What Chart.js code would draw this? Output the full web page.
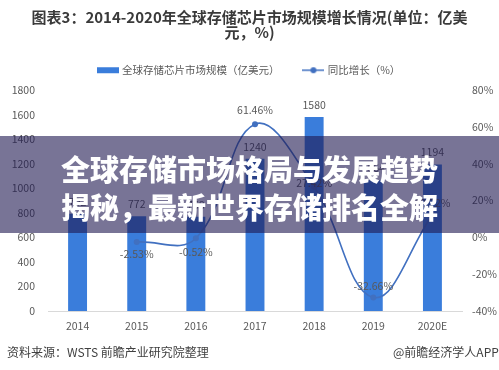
<!DOCTYPE html>
<html>
<head>
<meta charset="utf-8">
<script src="https://cdn.jsdelivr.net/npm/chart.js@4/dist/chart.umd.min.js"></script>
<style>
  html, body { margin: 0; padding: 0; background: #ffffff; }
  #wrap { position: relative; width: 499px; height: 370px; overflow: hidden; background: #fff; }
  #chart { position: absolute; left: 0; top: 0; }
  .foot { position: absolute; top: 343px; font: 12px "Noto Sans CJK SC", sans-serif; color: #404040; white-space: nowrap; line-height: 18px; }
  #overlay { position: absolute; left: 0; top: 136px; width: 499px; height: 97px; background: rgba(30,23,80,0.6); }
  #overlay div { position: absolute; left: 0; width: 499px; text-align: center; color: #ffffff;
    font: 900 29px "Noto Sans CJK SC", sans-serif; line-height: 38px; white-space: nowrap; }
</style>
</head>
<body>
<div id="wrap">
  <canvas id="chart" width="499" height="370"></canvas>
  <div class="foot" style="left:7px;">资料来源：WSTS 前瞻产业研究院整理</div>
  <div class="foot" style="left:393px;">@前瞻经济学人APP</div>
  <div id="overlay">
    <div style="top:13px;">全球存储市场格局与发展趋势</div>
    <div style="top:51px;">揭秘，最新世界存储排名全解</div>
  </div>
</div>
<script>
const categories = ['2014', '2015', '2016', '2017', '2018', '2019', '2020E'];
const marketSize = [792, 772, 768, 1240, 1580, 1064, 1194];
const growthRate = [null, -2.53, -0.52, 61.46, 27.42, -32.66, 12.22];
const seriesNames = ['全球存储芯片市场规模（亿美元）', '同比增长（%）'];
const titleLines = ['图表3：2014-2020年全球存储芯片市场规模增长情况(单位：亿美', '元，%)'];

const BAR_COLOR = '#3a7ddb';
const LINE_COLOR = '#4170c0';
const TEXT_COLOR = '#595959';
const FONT = '"Noto Sans CJK SC", "Noto Sans", sans-serif';
const growthLabelOffset = [0, 12, 14, -14, -4, -11, -12];

function makeSwatch(kind) {
  const c = document.createElement('canvas');
  c.width = 22; c.height = 8;
  const g = c.getContext('2d');
  if (kind === 'bar') {
    g.fillStyle = BAR_COLOR;
    g.fillRect(0, 1, 22, 6);
  } else {
    g.strokeStyle = LINE_COLOR; g.lineWidth = 1.5;
    g.beginPath(); g.moveTo(0, 4); g.lineTo(22, 4); g.stroke();
    g.fillStyle = LINE_COLOR;
    g.beginPath(); g.arc(11, 4, 3, 0, Math.PI * 2); g.fill();
  }
  return c;
}
const swatches = [makeSwatch('bar'), makeSwatch('line')];

// keep a fixed gap between the legend row and the plot area
const legendHeight = {
  id: 'legendHeight',
  beforeLayout(chart) {
    const lg = chart.legend;
    if (lg && !lg._fixedHeight) {
      const orig = lg.fit.bind(lg);
      lg.fit = function () { orig(); this.height = 50; };
      lg._fixedHeight = true;
    }
  }
};

const valueLabels = {
  id: 'valueLabels',
  afterDatasetsDraw(chart) {
    const ctx = chart.ctx;
    ctx.save();
    ctx.font = '10.5px ' + FONT;
    ctx.fillStyle = TEXT_COLOR;
    ctx.textAlign = 'center';
    ctx.textBaseline = 'middle';
    chart.getDatasetMeta(0).data.forEach((el, i) => {
      ctx.fillText(String(marketSize[i]), el.x, el.y - 12);
    });
    chart.getDatasetMeta(1).data.forEach((el, i) => {
      if (growthRate[i] === null) return;
      ctx.fillText(growthRate[i].toFixed(2) + '%', el.x, el.y + growthLabelOffset[i]);
    });
    ctx.restore();
  }
};

new Chart(document.getElementById('chart'), {
  type: 'bar',
  data: {
    labels: categories,
    datasets: [
      {
        type: 'bar',
        label: seriesNames[0],
        data: marketSize,
        backgroundColor: BAR_COLOR,
        yAxisID: 'y',
        categoryPercentage: 1,
        barPercentage: 0.32,
        order: 2
      },
      {
        type: 'line',
        label: seriesNames[1],
        data: growthRate,
        borderColor: LINE_COLOR,
        backgroundColor: LINE_COLOR,
        borderWidth: 1.6,
        pointRadius: 3,
        pointBackgroundColor: LINE_COLOR,
        pointBorderWidth: 0,
        tension: 0.4,
        yAxisID: 'y1',
        order: 1
      }
    ]
  },
  options: {
    responsive: false,
    animation: false,
    devicePixelRatio: 1,
    layout: { padding: { left: 0, right: 0, top: 0, bottom: 0 } },
    plugins: {
      tooltip: { enabled: false },
      title: {
        display: true,
        text: titleLines,
        color: '#3a3a3a',
        font: { family: FONT, size: 15, weight: 'bold', lineHeight: 1.0 },
        padding: { top: 10, bottom: 0 }
      },
      legend: {
        display: true,
        position: 'top',
        labels: {
          color: TEXT_COLOR,
          font: { family: FONT, size: 10.5 },
          usePointStyle: true,
          pointStyleWidth: 18,
          padding: 25,
          generateLabels: () => seriesNames.map((n, i) => ({
            text: n,
            pointStyle: swatches[i],
            fillStyle: 'transparent',
            strokeStyle: 'transparent',
            lineWidth: 0,
            fontColor: TEXT_COLOR,
            datasetIndex: i,
            hidden: false
          }))
        }
      }
    },
    scales: {
      x: {
        grid: { display: false, drawTicks: false },
        border: { display: true, color: '#d9d9d9', width: 1 },
        ticks: { color: TEXT_COLOR, font: { family: FONT, size: 10.5 }, padding: 9, maxRotation: 0 },
        afterFit(s) { s.height = 59; }
      },
      y: {
        position: 'left',
        min: 0, max: 1800,
        grid: { display: false, drawTicks: false },
        border: { display: false },
        ticks: { stepSize: 200, color: TEXT_COLOR, font: { family: FONT, size: 10.5 }, padding: 13,
          callback: v => String(v) },
        afterFit(s) { s.width = 48; }
      },
      y1: {
        position: 'right',
        min: -40, max: 80,
        grid: { display: false, drawTicks: false },
        border: { display: false },
        ticks: { stepSize: 20, color: TEXT_COLOR, font: { family: FONT, size: 10.5 }, padding: 10,
          callback: v => v + '%' },
        afterFit(s) { s.width = 37; }
      }
    }
  },
  plugins: [legendHeight, valueLabels]
});
</script>
</body>
</html>
